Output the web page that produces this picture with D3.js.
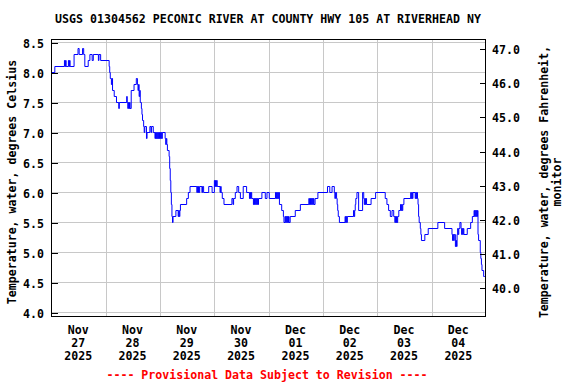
<!DOCTYPE html>
<html><head><meta charset="utf-8">
<script src="https://cdn.jsdelivr.net/npm/d3@7"></script>
<style>body{margin:0;background:#fff}svg{display:block}text{font-family:"DejaVu Sans Mono",monospace;font-weight:bold;font-size:11.6px;fill:#000}</style>
</head><body>
<svg id="c" width="576" height="384"></svg>
<script>
const chartTitle = "USGS 01304562 PECONIC RIVER AT COUNTY HWY 105 AT RIVERHEAD NY";
const leftAxisTitle = "Temperature, water, degrees Celsius";
const rightAxisTitle = ["Temperature, water, degrees Fahrenheit,", "monitor"];
const footerText = "---- Provisional Data Subject to Revision ----";
const dayLabels = [["Nov","27","2025"],["Nov","28","2025"],["Nov","29","2025"],["Nov","30","2025"],
                   ["Dec","01","2025"],["Dec","02","2025"],["Dec","03","2025"],["Dec","04","2025"]];
const celsiusTicks = [4.0,4.5,5.0,5.5,6.0,6.5,7.0,7.5,8.0,8.5];
const fahrenheitTicks = [40,41,42,43,44,45,46,47];
// [hours since 2025-11-27 00:00, water temperature in deg C]
const readings = [
[0,8.0],[1.25,8.1],[5.5,8.2],[5.75,8.1],[6.0,8.2],[6.25,8.1],[7.25,8.2],[7.5,8.1],[7.75,8.2],[8.0,8.1],
[9.75,8.3],[11.5,8.4],[12.0,8.3],[13.5,8.4],[14.0,8.3],[14.5,8.1],[16.0,8.2],[16.75,8.3],[17.75,8.2],[18.25,8.3],[20.5,8.2],[20.75,8.3],[21.5,8.2],
[25.25,8.1],[25.5,8.0],[25.75,7.9],[26.25,7.8],[26.5,7.9],[26.75,7.7],[27.5,7.6],[28.5,7.5],[29.5,7.4],[29.75,7.5],
[33.0,7.6],[33.25,7.5],[33.5,7.4],[33.75,7.5],[34.0,7.4],[34.25,7.5],[34.5,7.4],[35.0,7.7],[36.25,7.8],[37.25,7.9],[37.75,7.8],[38.0,7.7],[38.25,7.8],[38.5,7.6],[38.75,7.7],[39.0,7.5],[39.5,7.4],[39.75,7.3],[40.0,7.2],[40.5,7.1],[40.75,7.0],[41.0,7.1],[41.75,6.9],[42.0,7.0],[43.25,7.1],[43.75,7.0],[44.0,7.1],[44.75,7.0],
[45.5,6.9],[45.75,7.0],[46.0,6.9],[46.25,7.0],[46.5,6.9],[46.75,7.0],[47.0,6.9],[47.25,7.0],[47.5,6.9],[47.75,7.0],[48.0,6.9],[48.25,7.0],[48.5,6.9],[48.75,7.0],
[50.0,6.9],[50.25,6.8],[50.5,6.9],[50.75,6.8],[51.0,6.7],[51.75,6.6],[52.0,6.4],[52.25,6.2],[52.5,6.0],[52.75,5.8],[53.0,5.6],[53.25,5.5],[53.5,5.6],[54.75,5.7],[55.75,5.6],[56.0,5.7],[56.25,5.6],[56.5,5.7],[56.75,5.8],
[59.5,5.9],[60.25,6.0],[61.0,6.1],[64.0,6.0],[64.25,6.1],[64.5,6.0],[64.75,6.1],[65.0,6.0],[65.25,6.1],[66.25,6.0],[66.5,6.1],[67.0,6.0],[69.25,6.1],[70.75,6.0],[71.75,6.2],[72.0,6.1],[72.25,6.2],[72.5,6.1],[72.75,6.2],[73.0,6.1],[74.25,6.0],[74.5,6.1],[74.75,6.0],[75.25,5.9],[76.0,5.8],[79.5,5.9],[80.0,5.8],[80.25,5.9],[81.0,6.0],[81.75,6.1],[82.5,6.0],[83.25,5.9],[84.5,6.1],[86.0,6.0],
[87.25,5.9],[87.5,6.0],[87.75,5.9],[88.0,6.0],[88.25,5.9],[89.0,5.8],[89.25,5.9],[89.5,5.8],[89.75,5.9],[90.0,5.8],[90.25,5.9],[90.5,5.8],[90.75,5.9],[91.0,5.8],[91.25,5.9],[92.75,6.0],[94.25,5.9],[95.0,6.0],[96.0,5.9],[98.75,6.0],[99.0,5.9],[99.25,6.0],[99.5,5.9],[99.75,6.0],[100.0,5.9],[100.25,6.0],[100.5,5.8],[101.5,5.7],[102.25,5.6],[102.5,5.5],[103.0,5.6],[103.25,5.5],[103.5,5.6],[103.75,5.5],[104.0,5.6],[104.25,5.5],[104.5,5.6],[104.75,5.5],[105.25,5.6],[107.5,5.7],[109.75,5.8],
[113.5,5.9],[113.75,5.8],[114.0,5.9],[114.25,5.8],[114.5,5.9],[114.75,5.8],[115.0,5.9],[115.25,5.8],[115.5,5.9],[115.75,5.8],[116.25,5.9],[117.5,6.0],[121.75,6.1],[122.75,6.0],[123.75,6.1],[124.75,6.0],[125.0,5.9],[125.25,6.0],[125.75,5.9],[126.0,5.8],[126.25,5.7],[126.5,5.6],[127.0,5.5],[129.5,5.6],[129.75,5.5],[130.0,5.6],[130.25,5.5],[130.5,5.6],
[133.25,5.7],[133.5,5.6],[133.75,5.7],[134.0,5.8],[134.25,5.9],[134.75,6.0],[135.5,5.7],[137.25,6.0],[137.75,5.9],[138.0,5.8],[138.25,5.9],[138.5,5.8],[138.75,5.9],[139.0,5.8],[141.0,5.9],[143.0,6.0],[147.25,5.9],[148.0,5.8],[148.75,5.7],[149.5,5.6],[150.25,5.7],[151.0,5.6],[151.5,5.5],[151.75,5.6],[152.0,5.5],[152.25,5.6],[152.5,5.5],[152.75,5.6],[153.25,5.7],[154.0,5.8],[154.25,5.7],[154.5,5.8],[154.75,5.7],[155.0,5.8],[155.5,5.9],[158.5,6.0],[158.75,5.9],[159.0,6.0],[159.25,5.9],[159.5,6.0],[160.5,5.9],[160.75,6.0],[161.0,5.9],[161.25,6.0],[161.5,5.9],[161.75,5.8],[162.0,5.6],[162.25,5.5],[162.75,5.4],[163.0,5.3],[163.25,5.2],[164.75,5.3],[166.25,5.4],[170.5,5.5],[173.5,5.4],
[176.75,5.3],[177.0,5.2],[177.25,5.3],[177.5,5.2],[177.75,5.3],[178.25,5.1],[178.5,5.2],[178.75,5.1],[179.0,5.3],[179.25,5.4],[179.5,5.3],[179.75,5.4],[180.25,5.5],[180.75,5.4],[181.0,5.3],[181.25,5.4],[181.5,5.3],[181.75,5.4],[182.0,5.3],[183.5,5.4],[185.0,5.5],[185.75,5.6],[186.5,5.7],[186.75,5.6],[187.0,5.7],[187.25,5.6],[187.5,5.7],[187.75,5.6],[188.0,5.7],[188.25,5.3],[188.5,5.2],[189.25,5.0],[189.5,4.9],[189.75,4.8],[190.0,4.7],[190.75,4.6],[191.25,4.6]
];

const start = new Date(2025, 10, 27);
const end = new Date(2025, 11, 5);
const svg = d3.select("#c");
const L = 51.5, R = 485.5, T = 39.5, B = 316.5;

const x = d3.scaleTime().domain([start, end]).range([52, 486.5]);
const yC = d3.scaleLinear().domain([4.0, 8.5]).range([312.5, 42.5]);
const yF = d3.scaleLinear().domain([40, 47]).range([288.3, 49]);

const days = d3.timeDay.range(start, end);
const grid = svg.append("g").attr("stroke", "#c8c8c8").attr("stroke-width", 1).attr("shape-rendering", "crispEdges");
grid.selectAll("line.h").data(celsiusTicks).join("line").attr("class","h")
  .attr("x1", L).attr("x2", R).attr("y1", d => yC(d)).attr("y2", d => yC(d));
grid.selectAll("line.v").data(days.slice(1)).join("line").attr("class","v")
  .attr("x1", d => x(d)).attr("x2", d => x(d)).attr("y1", T).attr("y2", B);

// data line
const line = d3.line().x(d => x(d3.timeMinute.offset(start, d[0]*60))).y(d => yC(d[1])).curve(d3.curveStepAfter);
svg.append("path").datum(readings).attr("d", line).attr("fill", "none").attr("stroke", "#0000ff").attr("stroke-width", 1);

// frame
svg.append("rect").attr("x", L).attr("y", T).attr("width", R - L).attr("height", B - T)
  .attr("fill", "none").attr("stroke", "#000").attr("stroke-width", 1);

// left axis ticks (inward) and labels
const axL = svg.append("g").attr("transform", `translate(${L},0)`)
  .call(d3.axisRight(yC).tickValues(celsiusTicks).tickSize(6).tickFormat(""));
axL.select(".domain").remove();
axL.selectAll("line").attr("stroke", "#000").attr("shape-rendering", "crispEdges");
svg.append("g").selectAll("text").data(celsiusTicks).join("text")
  .attr("x", 44).attr("y", d => yC(d) + 1).attr("text-anchor", "end").attr("dominant-baseline", "central")
  .text(d => d3.format(".1f")(d));

// right axis ticks (inward) and labels
const axR = svg.append("g").attr("transform", `translate(${R},0)`)
  .call(d3.axisLeft(yF).tickValues(fahrenheitTicks).tickSize(6).tickFormat(""));
axR.select(".domain").remove();
axR.selectAll("line").attr("stroke", "#000").attr("shape-rendering", "crispEdges");
svg.append("g").selectAll("text").data(fahrenheitTicks).join("text")
  .attr("x", 492).attr("y", d => yF(d) + 1).attr("text-anchor", "start").attr("dominant-baseline", "central")
  .text(d => d3.format(".1f")(d));

// x labels at noon
const xl = svg.append("g");
days.forEach((d, i) => {
  const cx = x(d3.timeHour.offset(d, 12)) - 1;
  dayLabels[i].forEach((s, j) => {
    xl.append("text").attr("x", cx).attr("y", 330 + j * 13).attr("text-anchor", "middle")
      .attr("dominant-baseline", "central").text(s);
  });
});

// titles
svg.append("text").attr("x", 268).attr("y", 19).attr("text-anchor", "middle").attr("dominant-baseline", "central").text(chartTitle);
svg.append("text").attr("transform", "translate(12,182) rotate(-90)").attr("text-anchor", "middle")
  .attr("dominant-baseline", "central").text(leftAxisTitle);
rightAxisTitle.forEach((s, i) => {
  svg.append("text").attr("transform", `translate(${544 + i * 13},182) rotate(-90)`).attr("text-anchor", "middle")
    .attr("dominant-baseline", "central").text(s);
});
svg.append("text").attr("x", 267).attr("y", 375).attr("text-anchor", "middle").attr("dominant-baseline", "central")
  .style("fill", "#ff0000").text(footerText);
</script>
</body></html>
